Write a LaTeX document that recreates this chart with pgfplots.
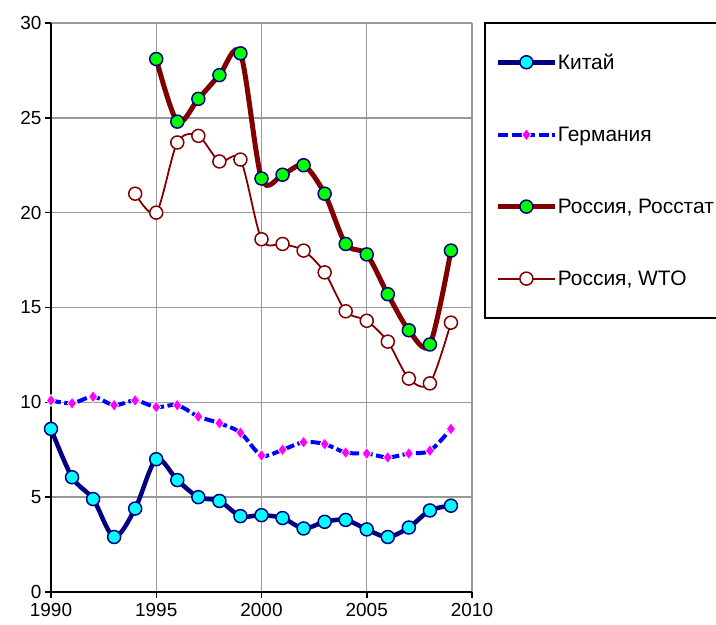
\documentclass[border=0pt]{standalone}
\usepackage{fontspec}
\setmainfont{Liberation Sans}
\usepackage{pgfplots}
\pgfplotsset{compat=1.18}
\definecolor{navyc}{HTML}{000080}
\definecolor{darkredc}{HTML}{800000}
\definecolor{gridc}{HTML}{999999}
\definecolor{cyanc}{HTML}{00FFFF}
\definecolor{greenc}{HTML}{00FF00}
\definecolor{bluec}{HTML}{0000FF}
\definecolor{magc}{HTML}{FF00FF}
\begin{document}
\begin{tikzpicture}
\begin{axis}[
  at={(51bp,33bp)}, anchor=south west,
  scale only axis, width=421bp, height=569bp,
  xmin=1990, xmax=2010, ymin=0, ymax=30,
  xtick={1990,1995,2000,2005,2010}, ytick={0,5,...,30},
  grid=major, grid style={gridc, line width=1.4bp},
  axis lines=left, axis line style={-, black, line width=1.8bp},
  tick style={black, line width=1.5bp}, tick align=outside, major tick length=6bp,
  /pgf/number format/1000 sep={}, /pgf/number format/assume math mode=true,
  tick label style={font=\fontsize{19}{21}\selectfont},
  xticklabel style={yshift=-2bp},
  legend style={at={(1.0285,1.002)}, anchor=north west, draw=black, line width=1.8bp,
    font=\fontsize{21}{22}\selectfont, row sep=54bp, inner xsep=11bp, inner ysep=30bp,
    nodes={inner sep=1bp}},
  legend cell align=left,
  legend image code/.code={\draw[mark repeat=2,mark phase=2,#1] plot coordinates {(0bp,0bp) (28bp,0bp) (56bp,0bp)};},
]
\addplot[navyc, line width=4.5bp, smooth, mark=*, mark size=6.5bp, mark options={fill=cyanc, draw=navyc, line width=1.5bp}] coordinates {
(1990,8.6) (1991,6.05) (1992,4.9) (1993,2.9) (1994,4.4) (1995,7.0) (1996,5.9) (1997,5.0) (1998,4.8) (1999,4.0)
(2000,4.05) (2001,3.9) (2002,3.35) (2003,3.7) (2004,3.8) (2005,3.3) (2006,2.9) (2007,3.4) (2008,4.3) (2009,4.55)};
\addlegendentry{Китай}
\addplot[bluec, line width=4bp, dash pattern=on 10bp off 3.5bp, smooth, mark=diamond*, mark size=6bp, mark options={solid, fill=magc, draw=white, line width=0.7bp}] coordinates {
(1990,10.1) (1991,9.95) (1992,10.3) (1993,9.85) (1994,10.1) (1995,9.75) (1996,9.85) (1997,9.25) (1998,8.9) (1999,8.4)
(2000,7.2) (2001,7.5) (2002,7.9) (2003,7.8) (2004,7.35) (2005,7.3) (2006,7.1) (2007,7.3) (2008,7.45) (2009,8.6)};
\addlegendentry{Германия}
\addplot[darkredc, line width=5bp, smooth, mark=*, mark size=6.5bp, mark options={fill=greenc, draw=navyc, line width=1.5bp}] coordinates {
(1995,28.1) (1996,24.8) (1997,26.0) (1998,27.25) (1999,28.4) (2000,21.8) (2001,22.0) (2002,22.5) (2003,21.0) (2004,18.35)
(2005,17.8) (2006,15.7) (2007,13.8) (2008,13.05) (2009,18.0)};
\addlegendentry{Россия, Росстат}
\addplot[darkredc, line width=1.8bp, smooth, mark=*, mark size=6.5bp, mark options={fill=white, draw=darkredc, line width=1.5bp}] coordinates {
(1994,21.0) (1995,20.0) (1996,23.7) (1997,24.05) (1998,22.7) (1999,22.8) (2000,18.6) (2001,18.35) (2002,18.0) (2003,16.85)
(2004,14.8) (2005,14.3) (2006,13.2) (2007,11.25) (2008,11.0) (2009,14.2)};
\addlegendentry{Россия, WTO}
\end{axis}
\pgfresetboundingbox
\useasboundingbox (0,0) rectangle (716bp,625bp);
\end{tikzpicture}
\end{document}
